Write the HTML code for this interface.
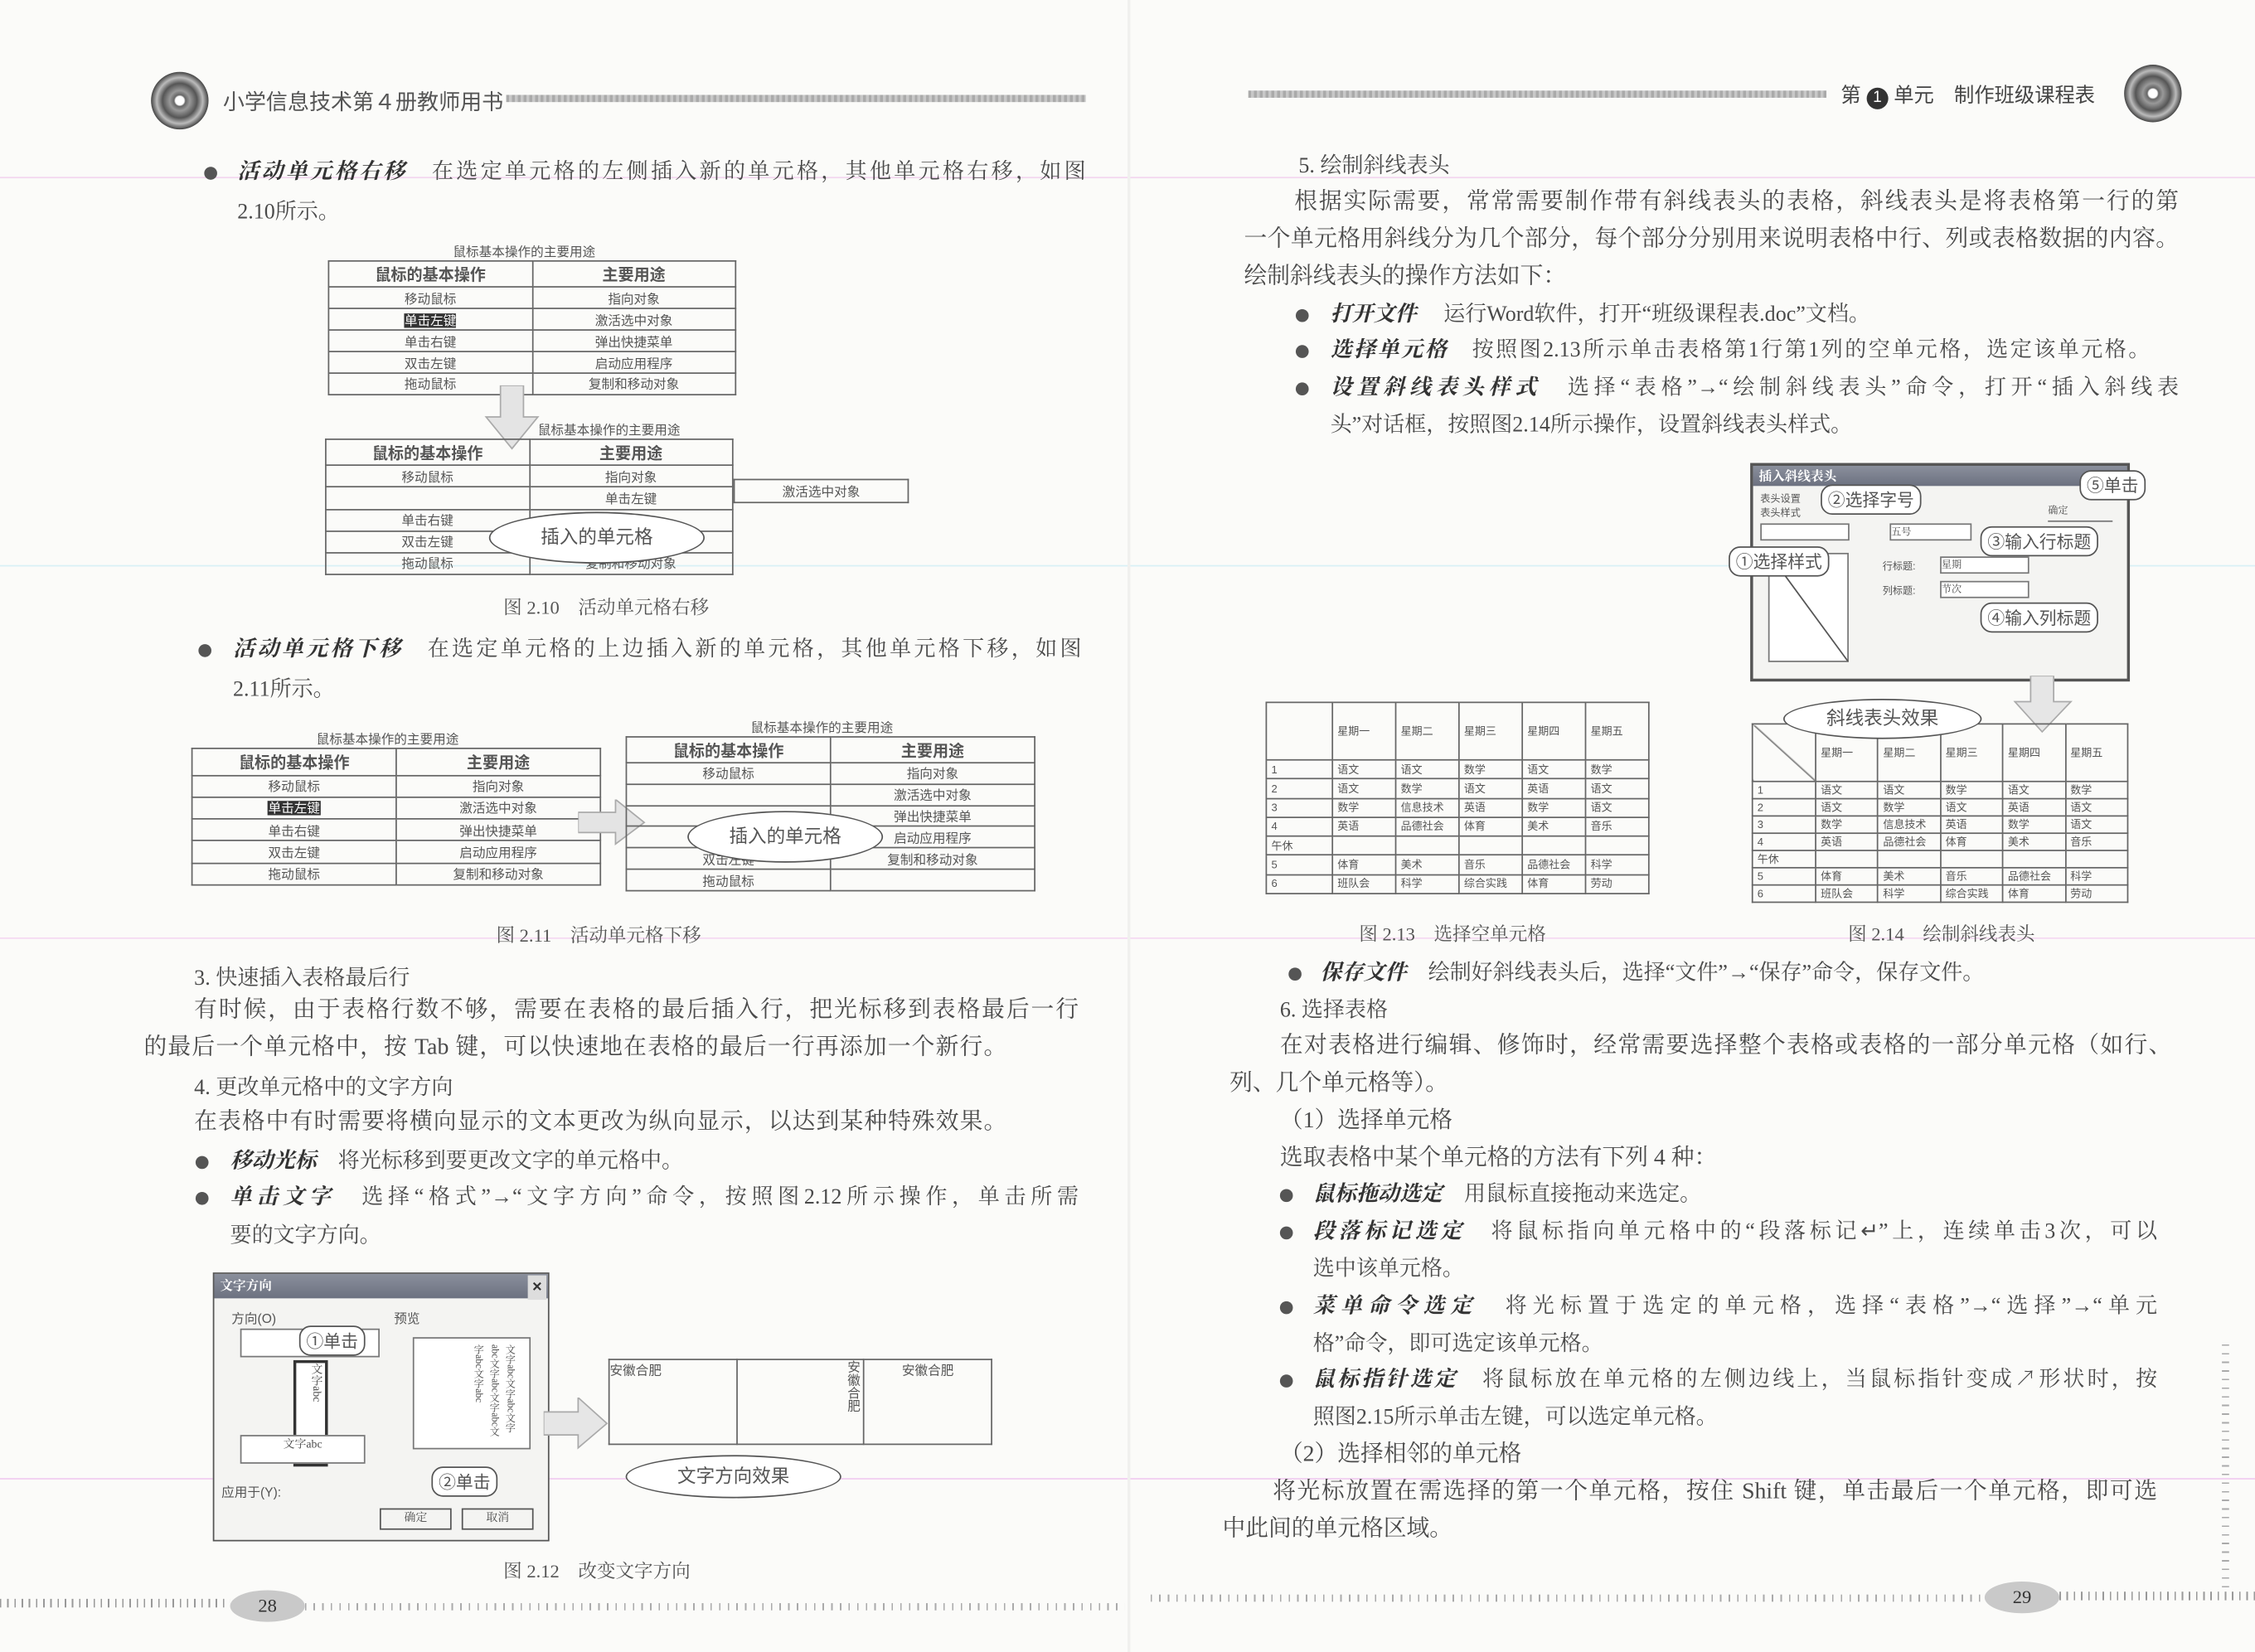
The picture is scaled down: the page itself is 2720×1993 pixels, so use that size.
<!DOCTYPE html>
<html><head><meta charset="utf-8">
<style>
html,body{margin:0;padding:0;background:#fbfbf9;}
body{width:2720px;height:1993px;overflow:hidden;position:relative;}
#w{position:absolute;left:0;top:0;width:1568px;height:1149px;transform:scale(1.73469,1.7346);transform-origin:0 0;font-family:"Liberation Serif","Noto Serif CJK SC","Noto Sans CJK SC",serif;color:#4a4a4a;}
.a{position:absolute;white-space:nowrap;}
.l{position:absolute;white-space:nowrap;font-size:15px;line-height:20px;}
.j{text-align:justify;text-align-last:justify;overflow:hidden;}
.b{font-weight:bold;font-style:italic;color:#333;}
.dot{position:absolute;width:9px;height:9px;border-radius:50%;background:#555;}
table{border-collapse:collapse;position:absolute;font-family:"Liberation Sans","Noto Sans CJK SC",sans-serif;table-layout:fixed;}
td{border:1px solid #666;text-align:center;font-size:9px;padding:0;color:#555;overflow:hidden;white-space:nowrap;}
.h td{width:50%;}
.sc td{text-align:left;padding-left:3px;font-size:7.5px;}
.cap{position:absolute;font-size:13px;color:#555;white-space:nowrap;}
.small{position:absolute;font-size:9px;color:#555;white-space:nowrap;font-family:"Liberation Sans","Noto Sans CJK SC",sans-serif;}
.cloud{position:absolute;border:1.5px solid #555;border-radius:50%;background:#fff;text-align:center;font-size:13px;color:#555;font-family:"Liberation Sans","Noto Sans CJK SC",sans-serif;}
.bub{position:absolute;border:1.3px solid #555;border-radius:8px;background:#fff;font-size:12px;color:#555;padding:1px 4px;white-space:nowrap;font-family:"Liberation Sans","Noto Sans CJK SC",sans-serif;}
.cd{position:absolute;border-radius:50%;background:radial-gradient(circle,#fff 0 3px,#666 4px,#999 7px,#555 12px,#bbb 16px,#444 20px);}
.bar{position:absolute;height:5px;background:repeating-linear-gradient(90deg,#aaa 0 2px,#c8c8c8 2px 4px);}
.hdr{background:linear-gradient(#8a8f9c,#6c7180);color:#fff;font-size:9px;font-weight:bold;padding-left:4px;}
</style></head><body><div id="w">

<div class="a" style="left:0;top:123px;width:1568px;height:1px;background:#f3d6ef"></div>
<div class="a" style="left:0;top:393px;width:1568px;height:1px;background:#d8f0f6"></div>
<div class="a" style="left:0;top:652px;width:1568px;height:1px;background:#f5d9f2"></div>
<div class="a" style="left:0;top:1028px;width:1568px;height:1px;background:#f1cdf0"></div>
<div class="a" style="left:784px;top:0;width:2px;height:1149px;background:#f0f0ee"></div>

<div class="cd" style="left:105px;top:50px;width:40px;height:40px"></div>
<div class="a" style="left:155px;top:60px;font-size:15px;color:#555;font-family:'Liberation Sans','Noto Sans CJK SC',sans-serif">小学信息技术第４册教师用书</div>
<div class="bar" style="left:352px;top:66px;width:403px"></div>
<div class="bar" style="left:868px;top:63px;width:402px"></div>
<div class="a" style="left:1280px;top:56px;font-size:14px;color:#444;font-family:'Liberation Sans','Noto Sans CJK SC',sans-serif">第 <span style="display:inline-block;width:15px;height:15px;border-radius:50%;background:#333;color:#fff;font-size:11px;text-align:center;line-height:15px">1</span> 单元　制作班级课程表</div>
<div class="cd" style="left:1477px;top:45px;width:40px;height:40px"></div>

<div class="dot" style="left:142px;top:116px"></div>
<div class="l j" style="left:165px;top:110px;width:590px"><span class="b">活动单元格右移</span>　在选定单元格的左侧插入新的单元格，其他单元格右移，如图</div>
<div class="l" style="left:165px;top:138px">2.10所示。</div>

<div class="small" style="left:315px;top:168px">鼠标基本操作的主要用途</div>
<table class="h" style="left:228px;top:181px;width:284px;height:94px">
<tr><td style="font-weight:bold;font-size:11px">鼠标的基本操作</td><td style="font-weight:bold;font-size:11px">主要用途</td></tr>
<tr><td>移动鼠标</td><td>指向对象</td></tr>
<tr><td><span style="background:#333;color:#fff">单击左键</span></td><td>激活选中对象</td></tr>
<tr><td>单击右键</td><td>弹出快捷菜单</td></tr>
<tr><td>双击左键</td><td>启动应用程序</td></tr>
<tr><td>拖动鼠标</td><td>复制和移动对象</td></tr></table>
<svg class="a" style="left:336px;top:268px" width="40" height="45"><polygon points="12,0 28,0 28,22 38,22 20,44 2,22 12,22" fill="#e4e4e4" stroke="#aaa"/></svg>
<div class="small" style="left:374px;top:292px">鼠标基本操作的主要用途</div>
<table class="h" style="left:226px;top:305px;width:284px;height:95px">
<tr><td style="font-weight:bold;font-size:11px">鼠标的基本操作</td><td style="font-weight:bold;font-size:11px">主要用途</td></tr>
<tr><td>移动鼠标</td><td>指向对象</td></tr>
<tr><td></td><td>单击左键</td></tr>
<tr><td>单击右键</td><td></td></tr>
<tr><td>双击左键</td><td></td></tr>
<tr><td>拖动鼠标</td><td>复制和移动对象</td></tr></table>
<table style="left:510px;top:333px;width:122px;height:17px"><tr><td>激活选中对象</td></tr></table>
<div class="cloud" style="left:340px;top:356px;width:148px;height:34px;line-height:34px">插入的单元格</div>
<div class="cap" style="left:350px;top:412px">图 2.10　活动单元格右移</div>

<div class="dot" style="left:138px;top:448px"></div>
<div class="l j" style="left:162px;top:442px;width:590px"><span class="b">活动单元格下移</span>　在选定单元格的上边插入新的单元格，其他单元格下移，如图</div>
<div class="l" style="left:162px;top:470px">2.11所示。</div>

<div class="small" style="left:220px;top:507px">鼠标基本操作的主要用途</div>
<table class="h" style="left:133px;top:520px;width:285px;height:96px">
<tr><td style="font-weight:bold;font-size:11px">鼠标的基本操作</td><td style="font-weight:bold;font-size:11px">主要用途</td></tr>
<tr><td>移动鼠标</td><td>指向对象</td></tr>
<tr><td><span style="background:#333;color:#fff">单击左键</span></td><td>激活选中对象</td></tr>
<tr><td>单击右键</td><td>弹出快捷菜单</td></tr>
<tr><td>双击左键</td><td>启动应用程序</td></tr>
<tr><td>拖动鼠标</td><td>复制和移动对象</td></tr></table>
<svg class="a" style="left:402px;top:556px" width="48" height="32"><polygon points="0,9 26,9 26,0 46,16 26,31 26,23 0,23" fill="#e4e4e4" stroke="#aaa"/></svg>
<div class="small" style="left:522px;top:499px">鼠标基本操作的主要用途</div>
<table class="h" style="left:435px;top:512px;width:285px;height:108px">
<tr><td style="font-weight:bold;font-size:11px">鼠标的基本操作</td><td style="font-weight:bold;font-size:11px">主要用途</td></tr>
<tr><td>移动鼠标</td><td>指向对象</td></tr>
<tr><td></td><td>激活选中对象</td></tr>
<tr><td></td><td>弹出快捷菜单</td></tr>
<tr><td></td><td>启动应用程序</td></tr>
<tr><td>双击左键</td><td>复制和移动对象</td></tr>
<tr><td>拖动鼠标</td><td></td></tr></table>
<div class="cloud" style="left:478px;top:564px;width:134px;height:34px;line-height:34px">插入的单元格</div>
<div class="cap" style="left:345px;top:640px">图 2.11　活动单元格下移</div>

<div class="l" style="left:135px;top:671px">3.  快速插入表格最后行</div>
<div class="l j" style="left:135px;top:693px;width:615px;font-size:16px">有时候，由于表格行数不够，需要在表格的最后插入行，把光标移到表格最后一行</div>
<div class="l j" style="left:100px;top:719px;width:600px;font-size:16px">的最后一个单元格中，按 Tab 键，可以快速地在表格的最后一行再添加一个新行。</div>
<div class="l" style="left:135px;top:747px">4.  更改单元格中的文字方向</div>
<div class="l j" style="left:135px;top:771px;width:565px;font-size:16px">在表格中有时需要将横向显示的文本更改为纵向显示，以达到某种特殊效果。</div>
<div class="dot" style="left:136px;top:804px"></div>
<div class="l" style="left:160px;top:798px"><span class="b">移动光标</span>　将光标移到要更改文字的单元格中。</div>
<div class="dot" style="left:136px;top:829px"></div>
<div class="l j" style="left:160px;top:823px;width:590px"><span class="b">单击文字</span>　选择“格式”→“文字方向”命令，按照图2.12所示操作，单击所需</div>
<div class="l" style="left:160px;top:850px">要的文字方向。</div>

<div class="a" style="left:148px;top:885px;width:232px;height:185px;border:1.5px solid #555;background:#f4f4f2;overflow:hidden">
<div class="hdr" style="height:17px;line-height:17px">文字方向<span style="float:right;background:#ddd;color:#333;width:13px;text-align:center;margin:1px">✕</span></div>
<div class="small" style="left:12px;top:24px">方向(O)</div><div class="small" style="left:125px;top:24px">预览</div>
<div class="a" style="left:18px;top:38px;width:95px;height:18px;border:1px solid #777;background:#fff"></div>
<div class="a" style="left:55px;top:60px;width:20px;height:70px;border:2px solid #333;background:#fff;font-size:8px;writing-mode:vertical-rl">文字abc</div>
<div class="a" style="left:18px;top:112px;width:85px;height:18px;border:1px solid #777;background:#fff;font-size:8px;text-align:center">文字abc</div>
<div class="a" style="left:138px;top:44px;width:80px;height:76px;border:1px solid #777;background:#fff;overflow:hidden"><div style="position:absolute;right:8px;top:4px;font-size:7px;writing-mode:vertical-rl;line-height:11px;height:66px;white-space:normal">文字abc文字abc文字abc文字abc文字abc文字abc文字abc</div></div>
<div class="small" style="left:5px;top:145px">应用于(Y):</div>
<div class="a" style="left:115px;top:163px;width:48px;height:13px;border:1px solid #555;font-size:8px;text-align:center">确定</div>
<div class="a" style="left:172px;top:163px;width:48px;height:13px;border:1px solid #555;font-size:8px;text-align:center">取消</div>
</div>
<div class="bub" style="left:208px;top:922px">①单击</div>
<div class="bub" style="left:300px;top:1020px">②单击</div>
<svg class="a" style="left:378px;top:972px" width="46" height="36"><polygon points="0,10 24,10 24,0 44,18 24,35 24,26 0,26" fill="#e6e6e6" stroke="#aaa"/></svg>
<table style="left:423px;top:945px;width:267px;height:60px"><tr><td style="text-align:left;vertical-align:top;font-size:9px">安徽合肥</td><td style="vertical-align:top"><span style="writing-mode:vertical-rl;float:right;font-size:9px">安徽合肥</span></td><td style="vertical-align:top;font-size:9px">安徽合肥</td></tr></table>
<div class="cloud" style="left:435px;top:1012px;width:148px;height:28px;line-height:28px">文字方向效果</div>
<div class="cap" style="left:350px;top:1082px">图 2.12　改变文字方向</div>

<div class="l" style="left:903px;top:106px">5.  绘制斜线表头</div>
<div class="l j" style="left:900px;top:131px;width:615px;font-size:16px">根据实际需要，常常需要制作带有斜线表头的表格，斜线表头是将表格第一行的第</div>
<div class="l j" style="left:865px;top:157px;width:650px;font-size:16px">一个单元格用斜线分为几个部分，每个部分分别用来说明表格中行、列或表格数据的内容。</div>
<div class="l" style="left:865px;top:183px;font-size:16px">绘制斜线表头的操作方法如下：</div>
<div class="dot" style="left:901px;top:215px"></div>
<div class="l" style="left:925px;top:209px"><span class="b">打开文件</span>　 运行Word软件，打开“班级课程表.doc”文档。</div>
<div class="dot" style="left:901px;top:240px"></div>
<div class="l j" style="left:925px;top:234px;width:570px"><span class="b">选择单元格</span>　按照图2.13所示单击表格第1行第1列的空单元格，选定该单元格。</div>
<div class="dot" style="left:901px;top:266px"></div>
<div class="l j" style="left:925px;top:260px;width:590px"><span class="b">设置斜线表头样式</span>　选择“表格”→“绘制斜线表头”命令，打开“插入斜线表</div>
<div class="l" style="left:925px;top:286px">头”对话框，按照图2.14所示操作，设置斜线表头样式。</div>

<div class="a" style="left:1217px;top:322px;width:260px;height:148px;border:2px solid #555;background:#f4f4f2">
<div class="hdr" style="height:14px;line-height:14px">插入斜线表头</div>
<div class="small" style="left:5px;top:18px;font-size:7px">表头设置</div>
<div class="small" style="left:5px;top:28px;font-size:7px">表头样式</div>
<div class="a" style="left:5px;top:40px;width:60px;height:10px;border:1px solid #777;background:#fff"></div>
<div class="a" style="left:95px;top:40px;width:55px;height:10px;border:1px solid #777;background:#fff;font-size:7px">五号</div>
<div class="a" style="left:205px;top:26px;width:45px;height:12px;font-size:7px;border-bottom:1px solid #777">确定</div>
<div class="small" style="left:90px;top:65px;font-size:7px">行标题:</div><div class="a" style="left:130px;top:63px;width:60px;height:10px;border:1px solid #777;background:#fff;font-size:7px">星期</div>
<div class="small" style="left:90px;top:82px;font-size:7px">列标题:</div><div class="a" style="left:130px;top:80px;width:60px;height:10px;border:1px solid #777;background:#fff;font-size:7px">节次</div>
<svg class="a" style="left:10px;top:60px" width="60" height="80"><rect x="1" y="1" width="55" height="75" fill="#fff" stroke="#777"/><line x1="1" y1="1" x2="56" y2="76" stroke="#555"/></svg>
</div>
<div class="bub" style="left:1266px;top:337px">②选择字号</div>
<div class="bub" style="left:1446px;top:327px">⑤单击</div>
<div class="bub" style="left:1377px;top:366px">③输入行标题</div>
<div class="bub" style="left:1202px;top:380px">①选择样式</div>
<div class="bub" style="left:1377px;top:419px">④输入列标题</div>
<svg class="a" style="left:1400px;top:470px" width="42" height="40"><polygon points="12,0 28,0 28,18 40,18 20,39 1,18 12,18" fill="#e6e6e6" stroke="#aaa"/></svg>

<table class="sc" style="left:880px;top:488px;width:267px;height:134px">
<tr style="height:40px"><td style="width:42px"></td><td>星期一</td><td>星期二</td><td>星期三</td><td>星期四</td><td>星期五</td></tr>
<tr><td>1</td><td>语文</td><td>语文</td><td>数学</td><td>语文</td><td>数学</td></tr>
<tr><td>2</td><td>语文</td><td>数学</td><td>语文</td><td>英语</td><td>语文</td></tr>
<tr><td>3</td><td>数学</td><td>信息技术</td><td>英语</td><td>数学</td><td>语文</td></tr>
<tr><td>4</td><td>英语</td><td>品德社会</td><td>体育</td><td>美术</td><td>音乐</td></tr>
<tr><td>午休</td><td></td><td></td><td></td><td></td><td></td></tr>
<tr><td>5</td><td>体育</td><td>美术</td><td>音乐</td><td>品德社会</td><td>科学</td></tr>
<tr><td>6</td><td>班队会</td><td>科学</td><td>综合实践</td><td>体育</td><td>劳动</td></tr></table>

<table class="sc" style="left:1218px;top:503px;width:262px;height:125px">
<tr style="height:40px"><td style="width:40px;background:linear-gradient(to top right,transparent 49%,#666 50%,transparent 52%)"></td><td>星期一</td><td>星期二</td><td>星期三</td><td>星期四</td><td>星期五</td></tr>
<tr><td>1</td><td>语文</td><td>语文</td><td>数学</td><td>语文</td><td>数学</td></tr>
<tr><td>2</td><td>语文</td><td>数学</td><td>语文</td><td>英语</td><td>语文</td></tr>
<tr><td>3</td><td>数学</td><td>信息技术</td><td>英语</td><td>数学</td><td>语文</td></tr>
<tr><td>4</td><td>英语</td><td>品德社会</td><td>体育</td><td>美术</td><td>音乐</td></tr>
<tr><td>午休</td><td></td><td></td><td></td><td></td><td></td></tr>
<tr><td>5</td><td>体育</td><td>美术</td><td>音乐</td><td>品德社会</td><td>科学</td></tr>
<tr><td>6</td><td>班队会</td><td>科学</td><td>综合实践</td><td>体育</td><td>劳动</td></tr></table>
<div class="cloud" style="left:1240px;top:486px;width:136px;height:26px;line-height:26px">斜线表头效果</div>
<div class="cap" style="left:945px;top:639px">图 2.13　选择空单元格</div>
<div class="cap" style="left:1285px;top:639px">图 2.14　绘制斜线表头</div>

<div class="dot" style="left:896px;top:673px"></div>
<div class="l" style="left:918px;top:667px"><span class="b">保存文件</span>　绘制好斜线表头后，选择“文件”→“保存”命令，保存文件。</div>
<div class="l" style="left:890px;top:693px">6.  选择表格</div>
<div class="l j" style="left:890px;top:718px;width:620px;font-size:16px">在对表格进行编辑、修饰时，经常需要选择整个表格或表格的一部分单元格（如行、</div>
<div class="l" style="left:855px;top:744px;font-size:16px">列、几个单元格等）。</div>
<div class="l" style="left:890px;top:770px;font-size:16px">（1）选择单元格</div>
<div class="l" style="left:890px;top:796px;font-size:16px">选取表格中某个单元格的方法有下列 4 种：</div>
<div class="dot" style="left:890px;top:827px"></div>
<div class="l" style="left:913px;top:821px"><span class="b">鼠标拖动选定</span>　用鼠标直接拖动来选定。</div>
<div class="dot" style="left:890px;top:853px"></div>
<div class="l j" style="left:913px;top:847px;width:587px"><span class="b">段落标记选定</span>　将鼠标指向单元格中的“段落标记↵”上，连续单击3次，可以</div>
<div class="l" style="left:913px;top:873px">选中该单元格。</div>
<div class="dot" style="left:890px;top:905px"></div>
<div class="l j" style="left:913px;top:899px;width:587px"><span class="b">菜单命令选定</span>　将光标置于选定的单元格，选择“表格”→“选择”→“单元</div>
<div class="l" style="left:913px;top:925px">格”命令，即可选定该单元格。</div>
<div class="dot" style="left:890px;top:956px"></div>
<div class="l j" style="left:913px;top:950px;width:587px"><span class="b">鼠标指针选定</span>　将鼠标放在单元格的左侧边线上，当鼠标指针变成↗形状时，按</div>
<div class="l" style="left:913px;top:976px">照图2.15所示单击左键，可以选定单元格。</div>
<div class="l" style="left:890px;top:1002px;font-size:16px">（2）选择相邻的单元格</div>
<div class="l j" style="left:885px;top:1028px;width:615px;font-size:16px">将光标放置在需选择的第一个单元格，按住 Shift 键，单击最后一个单元格，即可选</div>
<div class="l" style="left:850px;top:1054px;font-size:16px">中此间的单元格区域。</div>

<div class="a" style="left:0;top:1112px;width:160px;height:6px;background:repeating-linear-gradient(90deg,#999 0 1px,transparent 1px 5px)"></div>
<div class="a" style="left:160px;top:1106px;width:52px;height:22px;border-radius:50%;background:#c9c9c9;text-align:center;line-height:22px;font-size:13px;color:#333">28</div>
<div class="a" style="left:212px;top:1115px;width:570px;height:5px;background:repeating-linear-gradient(90deg,#aaa 0 1px,transparent 1px 6px)"></div>
<div class="a" style="left:800px;top:1109px;width:580px;height:5px;background:repeating-linear-gradient(90deg,#aaa 0 1px,transparent 1px 6px)"></div>
<div class="a" style="left:1380px;top:1100px;width:52px;height:22px;border-radius:50%;background:#c9c9c9;text-align:center;line-height:22px;font-size:13px;color:#333">29</div>
<div class="a" style="left:1432px;top:1107px;width:136px;height:6px;background:repeating-linear-gradient(90deg,#999 0 1px,transparent 1px 5px)"></div>
<div class="a" style="left:1545px;top:935px;width:5px;height:170px;background:repeating-linear-gradient(#aaa 0 1px,transparent 1px 6px)"></div>

</div></body></html>
